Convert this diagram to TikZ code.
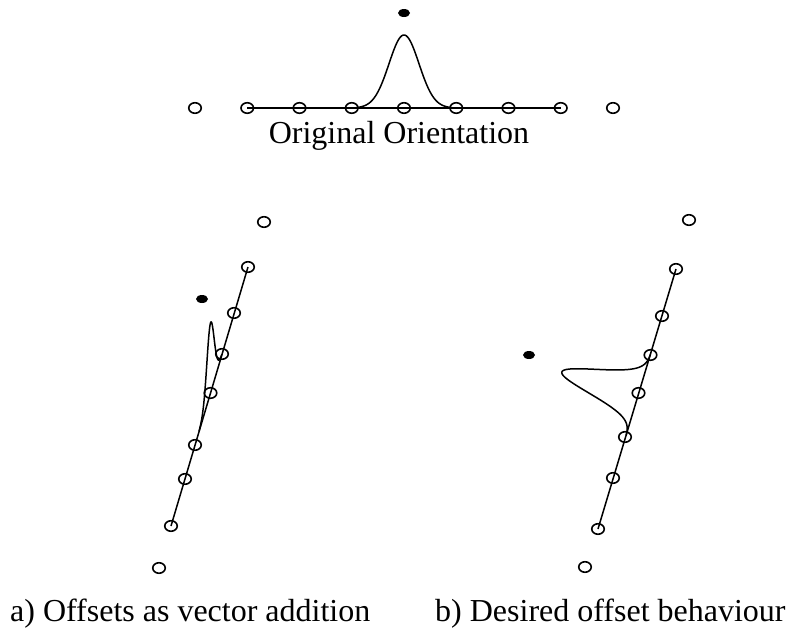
\documentclass[tikz,border=0pt]{standalone}
\usepackage{fontspec}
\setmainfont{Liberation Serif}
\usetikzlibrary{shapes.geometric}
\begin{document}
\begin{tikzpicture}[x=1pt,y=-1pt,
  ring/.style={ellipse,draw,line width=1.6pt,minimum width=12.5pt,minimum height=10.5pt,inner sep=0pt},
  blob/.style={ellipse,fill=black,minimum width=12pt,minimum height=8pt,inner sep=0pt},
  rod/.style={line width=1.5pt},
  curve/.style={line width=1.5pt,line join=round},
  caption/.style={font=\fontsize{32}{38}\selectfont,inner sep=0pt,anchor=base west}]
\useasboundingbox (0,0) rectangle (796,630);
% ---- top: original orientation ----
\node[ring] (t0) at (195,108) {};
\node[ring] (t1) at (247.25,108) {};
\node[ring] (t2) at (299.5,108) {};
\node[ring] (t3) at (351.75,108) {};
\node[ring] (t4) at (404,108) {};
\node[ring] (t5) at (456.25,108) {};
\node[ring] (t6) at (508.5,108) {};
\node[ring] (t7) at (560.75,108) {};
\node[ring] (t8) at (613,108) {};
\draw[rod] (t1.center) -- (t7.center);
\draw[curve] plot[domain=-48:48,samples=121,smooth] ({404+\x},{108-73*exp(-\x*\x/450)});
\node[blob] (td) at (404,13) {};
\node[caption,anchor=base] (tl) at (399,143) {Original Orientation};
% ---- left: offsets as vector addition ----
\node[ring] (a0) at (159,568) {};
\node[ring] (a1) at (171,526) {};
\node[ring] (a2) at (185,479) {};
\node[ring] (a3) at (195,445) {};
\node[ring] (a4) at (210.5,393) {};
\node[ring] (a5) at (222,354) {};
\node[ring] (a6) at (234,313) {};
\node[ring] (a7) at (248,267) {};
\node[ring] (a8) at (264,222) {};
\draw[rod] (a1.center) -- (a7.center);
\draw[curve] plot[domain=-40:40,samples=161,smooth] ({210.5+0.285*\x},{393-0.9586*\x-70*exp(-\x*\x/320)});
\node[blob] (ad) at (202,299) {};
\node[caption] (al) at (10,621) {a) Offsets as vector addition};
% ---- right: desired offset behaviour ----
\node[ring] (b0) at (585,567) {};
\node[ring] (b1) at (598,529) {};
\node[ring] (b2) at (613,478) {};
\node[ring] (b3) at (625,437) {};
\node[ring] (b4) at (638.5,393) {};
\node[ring] (b5) at (650.5,355) {};
\node[ring] (b6) at (662,316) {};
\node[ring] (b7) at (676,269) {};
\node[ring] (b8) at (689,220) {};
\draw[rod] (b1.center) -- (b7.center);
\draw[curve] plot[domain=-42:42,samples=161,smooth] ({638.5+0.2874*\x-80*0.958*exp(-\x*\x/300)},{395-0.958*\x-80*0.2874*exp(-\x*\x/300)});
\node[blob] (bd) at (529,355) {};
\node[caption] (bl) at (435,621) {b) Desired offset behaviour};
\end{tikzpicture}
\end{document}
